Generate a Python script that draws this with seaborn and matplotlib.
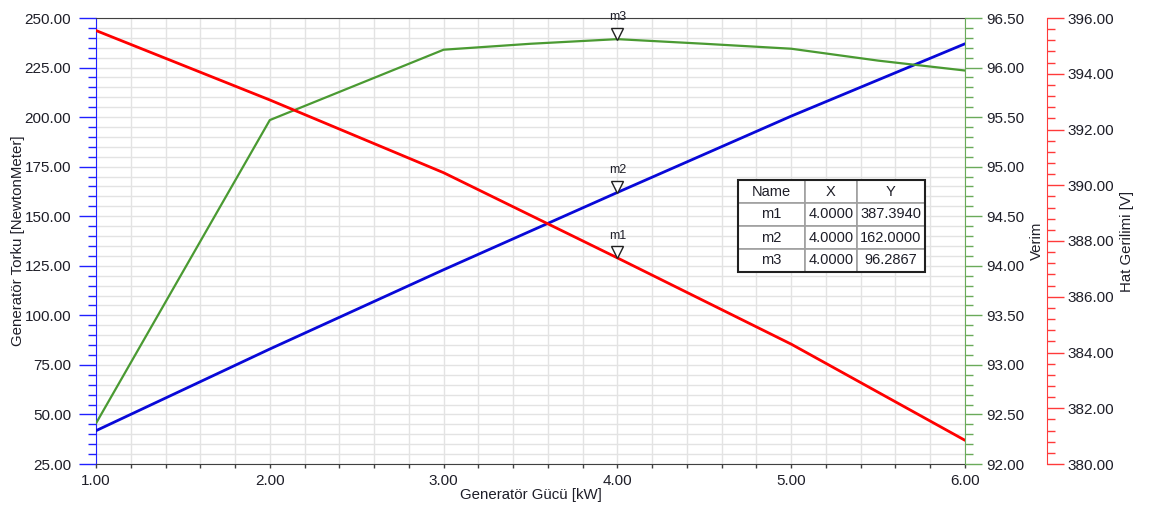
import numpy as np
import pandas as pd
import seaborn as sns
import matplotlib.transforms as mtransforms
from matplotlib import pyplot as plt
from matplotlib.ticker import MultipleLocator, FormatStrFormatter
from matplotlib.patches import Rectangle

# data
power = [1, 2, 3, 4, 5, 6]
torque = [41.8, 83.0, 123.0, 162.0, 200.5, 237.0]
voltage = [395.55, 393.06, 390.45, 387.394, 384.3, 380.85]
eff_x = [1, 2, 3, 3.5, 4, 4.5, 5, 5.5, 6]
efficiency = [92.41, 95.47, 96.18, 96.24, 96.2867, 96.24, 96.19, 96.07, 95.97]

marker_names = ['m1', 'm2', 'm3']
marker_x = [4.0, 4.0, 4.0]
marker_y = [387.3940, 162.0000, 96.2867]

sns.set_style('white')
plt.rcParams['font.family'] = ['Liberation Sans', 'DejaVu Sans']
txt = '#1e1e28'

fig = plt.figure(figsize=(11.52, 5.05), dpi=100)
ax = fig.add_axes([96 / 1152, 1 - 464 / 505, 869 / 1152, 446 / 505])
ax2 = ax.twinx()
ax3 = ax.twinx()

df_t = pd.DataFrame({'x': power, 'y': torque})
df_v = pd.DataFrame({'x': power, 'y': voltage})
df_e = pd.DataFrame({'x': eff_x, 'y': efficiency})

sns.lineplot(data=df_t, x='x', y='y', ax=ax, color='#0808d8', lw=2.0, zorder=3)
sns.lineplot(data=df_e, x='x', y='y', ax=ax2, color='#4a9a32', lw=1.6, zorder=3)
sns.lineplot(data=df_v, x='x', y='y', ax=ax3, color='#ff0000', lw=2.0, zorder=3)

# x axis
ax.set_xlim(1, 6)
ax.xaxis.set_major_locator(MultipleLocator(1))
ax.xaxis.set_minor_locator(MultipleLocator(0.2))
ax.xaxis.set_major_formatter(FormatStrFormatter('%.2f'))
ax.tick_params(axis='x', which='both', direction='out', length=3, width=1,
               color='#404040', labelsize=11, labelcolor=txt, pad=4, bottom=True)

# left axis (torque)
ax.set_ylim(25, 250)
ax.yaxis.set_major_locator(MultipleLocator(25))
ax.yaxis.set_minor_locator(MultipleLocator(5))
ax.yaxis.set_major_formatter(FormatStrFormatter('%.2f'))
ax.tick_params(axis='y', which='major', direction='out', length=12, width=1,
               color='#2020ff', labelsize=11, labelcolor=txt, pad=6, left=True)
ax.tick_params(axis='y', which='minor', direction='out', length=6, width=1,
               color='#2020ff', left=True)
ax.grid(which='both', color='#e3e3e3', lw=1)
ax.set_axisbelow(True)
for s in ['top', 'bottom']:
    ax.spines[s].set_color('#404040')
ax.spines['left'].set_color('#2020ff')
ax.spines['right'].set_visible(False)

# efficiency axis
ax2.set_ylim(92, 96.5)
ax2.yaxis.set_major_locator(MultipleLocator(0.5))
ax2.yaxis.set_minor_locator(MultipleLocator(0.1))
ax2.yaxis.set_major_formatter(FormatStrFormatter('%.2f'))
ax2.tick_params(axis='y', which='major', direction='out', length=12, width=1,
                color='#6aaa5a', labelsize=11, labelcolor=txt, pad=3)
ax2.tick_params(axis='y', which='minor', direction='out', length=6, width=1, color='#6aaa5a')
for s in ['top', 'bottom', 'left']:
    ax2.spines[s].set_visible(False)
ax2.spines['right'].set_color('#6aaa5a')

# voltage axis
ax3.set_ylim(380, 396)
ax3.yaxis.set_major_locator(MultipleLocator(2))
ax3.yaxis.set_minor_locator(MultipleLocator(0.4))
ax3.yaxis.set_major_formatter(FormatStrFormatter('%.2f'))
ax3.tick_params(axis='y', which='major', direction='out', length=12, width=1,
                color='#ff3a3a', labelsize=11, labelcolor=txt, pad=3)
ax3.tick_params(axis='y', which='minor', direction='out', length=6, width=1, color='#ff3a3a')
for s in ['top', 'bottom', 'left']:
    ax3.spines[s].set_visible(False)
ax3.spines['right'].set_position(('outward', 59))
ax3.spines['right'].set_color('#ff3a3a')

# axis labels
ax.set_xlabel('Generatör Gücü [kW]', fontsize=10.8, color=txt, labelpad=0)
labels = [(ax, 'Generatör Torku [NewtonMeter]', -0.0898),
          (ax2, 'Verim', 1.0829),
          (ax3, 'Hat Gerilimi [V]', 1.1864)]
for a, t, xc in labels:
    a.set_ylabel(t, fontsize=10.8, color=txt)
    a.yaxis.set_label_coords(xc, 0.5)
    a.yaxis.label.set_ha('center')
    a.yaxis.label.set_va('center')

# markers
shift = mtransforms.ScaledTranslation(0, 4 / 72, fig.dpi_scale_trans)
for a, name, mx, my in zip([ax3, ax, ax2], marker_names, marker_x, marker_y):
    a.plot([mx], [my], marker='v', ms=8, mfc='white', mec='#202020', mew=1,
           transform=a.transData + shift, zorder=6, clip_on=False)
    a.annotate(name, xy=(mx, my), xytext=(0, 16), textcoords='offset points',
               ha='center', va='center', fontsize=9, color=txt, zorder=6)

# marker table
cell_text = [[n, '%.4f' % x, '%.4f' % y] for n, x, y in zip(marker_names, marker_x, marker_y)]
x0, x1 = (738 - 96) / 869, (925 - 96) / 869
y0, y1 = (464 - 272) / 446, (464 - 180) / 446
tab = ax3.table(cellText=cell_text, colLabels=['Name', 'X', 'Y'], cellLoc='center',
                colWidths=[67, 52, 68], bbox=[x0, y0, x1 - x0, y1 - y0], zorder=10)
tab.auto_set_font_size(False)
for (r, c), cell in tab.get_celld().items():
    cell.set_fontsize(10.5)
    cell.set_edgecolor('#a0a0a0')
    cell.set_linewidth(1.2)
    cell.set_facecolor('white')
    cell.PAD = 0.02
    cell.get_text().set_color(txt)
ax3.add_patch(Rectangle((x0, y0), x1 - x0, y1 - y0, transform=ax3.transAxes,
                        fill=False, ec='#202020', lw=1.5, zorder=11, clip_on=False))

fig.savefig('out.png', dpi=100)
